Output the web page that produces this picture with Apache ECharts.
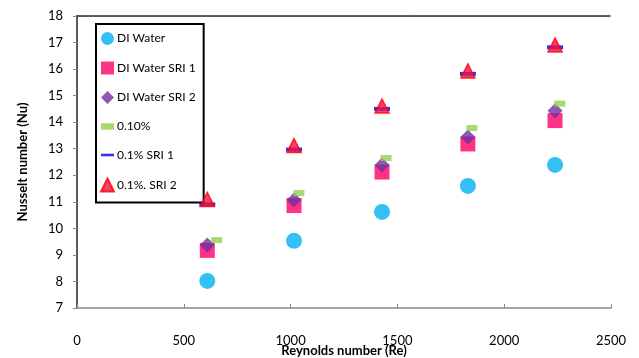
<!DOCTYPE html>
<html>
<head>
<meta charset="utf-8">
<script src="https://cdn.jsdelivr.net/npm/echarts@6/dist/echarts.min.js"></script>
<style>html,body{margin:0;padding:0;background:#fff}#c{width:639px;height:358px}</style>
</head>
<body>
<div id="c"></div>
<script>
const seriesNames = ['DI Water', 'DI Water SRI 1', 'DI Water SRI 2', '0.10%', '0.1% SRI 1', '0.1%. SRI 2'];
const reBase = [610, 1016, 1428, 1830, 2238];
const reGreen = [654, 1039, 1447, 1849, 2261];
const nuWater = [8.02, 9.53, 10.62, 11.6, 12.39];
const nuWaterSRI1 = [9.17, 10.86, 12.12, 13.18, 14.06];
const nuWaterSRI2 = [9.37, 11.07, 12.39, 13.44, 14.43];
const nu010 = [9.56, 11.33, 12.65, 13.78, 14.70];
const nu01SRI1 = [10.9, 12.97, 14.5, 15.82, 16.82];
const nu01SRI2 = [11.09, 13.12, 14.61, 15.93, 16.91];
const xTicks = [0, 500, 1000, 1500, 2000, 2500];
const yTicks = [7, 8, 9, 10, 11, 12, 13, 14, 15, 16, 17, 18];

const pair = (xs, ys) => xs.map((x, i) => [x, ys[i]]);
const FONT = 'Lato';
const dashGreen = 'path://M0,0h10v5h-10z';
const dashBlue = 'path://M0,0h15v3h-15z';

const chart = echarts.init(document.getElementById('c'), null, {renderer: 'canvas'});
chart.setOption({
  animation: false,
  textStyle: {fontFamily: FONT},
  grid: {left: 77, right: 28, top: 16, bottom: 50, containLabel: false, outerBoundsMode: 'none'},
  legend: {
    orient: 'vertical', left: 96, top: 24,
    backgroundColor: '#fff',
    borderColor: '#000', borderWidth: 2,
    padding: [8, 8, 10, 4],
    itemGap: 16.5, itemWidth: 13, itemHeight: 13,
    textStyle: {fontFamily: FONT, fontSize: 12, color: '#000', padding: [0, 0, 0, -2]},
    data: [
      {name: seriesNames[0], icon: 'circle'},
      {name: seriesNames[1], icon: 'rect'},
      {name: seriesNames[2], icon: 'diamond'},
      {name: seriesNames[3], icon: dashGreen},
      {name: seriesNames[4], icon: dashBlue},
      {name: seriesNames[5], icon: 'triangle'}
    ]
  },
  xAxis: [{
    type: 'value', min: 0, max: 2500, interval: 500,
    name: 'Reynolds number (Re)', nameLocation: 'middle', nameGap: 36, nameMoveOverlap: false,
    nameTextStyle: {fontFamily: FONT, fontSize: 13, fontWeight: 'bold', color: '#000'},
    axisLine: {show: true, lineStyle: {color: '#888', width: 1.5}},
    axisTick: {show: true, inside: true, length: 4, lineStyle: {color: '#888'}},
    axisLabel: {margin: 26, fontSize: 13, color: '#000', fontFamily: FONT,
      formatter: v => xTicks.includes(v) ? String(v) : ''},
    splitLine: {show: false}
  }, {
    type: 'value', min: 0, max: 2500, position: 'top',
    axisLine: {show: true, lineStyle: {color: '#222', width: 1.5, type: [2, 1]}},
    axisTick: {show: false}, axisLabel: {show: false}, splitLine: {show: false}
  }],
  yAxis: [{
    type: 'value', min: 7, max: 18, interval: 1,
    name: 'Nusselt number (Nu)', nameLocation: 'middle', nameGap: 48, nameMoveOverlap: false,
    nameTextStyle: {fontFamily: FONT, fontSize: 13, fontWeight: 'bold', color: '#000'},
    axisLine: {show: true, lineStyle: {color: '#888', width: 1.5}},
    axisTick: {show: true, inside: false, length: 4, lineStyle: {color: '#888'}},
    axisLabel: {margin: 14, fontSize: 13, color: '#000', fontFamily: FONT,
      formatter: v => yTicks.includes(v) ? String(v) : ''},
    splitLine: {show: false}
  }, {
    type: 'value', min: 7, max: 18, interval: 1, position: 'right',
    axisLine: {show: true, lineStyle: {color: '#444', width: 1.5}},
    axisTick: {show: false}, axisLabel: {show: false}, splitLine: {show: false}
  }],
  series: [
    {name: seriesNames[0], type: 'scatter', symbol: 'circle', symbolSize: 16,
      itemStyle: {color: '#00B0F0'}, data: pair(reBase, nuWater), z: 2},
    {name: seriesNames[1], type: 'scatter', symbol: 'rect', symbolSize: 15,
      itemStyle: {color: '#FF0066'}, data: pair(reBase, nuWaterSRI1), z: 3},
    {name: seriesNames[2], type: 'scatter', symbol: 'diamond', symbolSize: 15,
      itemStyle: {color: '#7030A0'}, data: pair(reBase, nuWaterSRI2), z: 4},
    {name: seriesNames[3], type: 'scatter', symbol: 'rect', symbolSize: [11, 6],
      itemStyle: {color: '#92D050'}, data: pair(reGreen, nu010), z: 5},
    {name: seriesNames[4], type: 'scatter', symbol: 'rect', symbolSize: [16, 4],
      itemStyle: {color: '#0000E0'}, data: pair(reBase, nu01SRI1), z: 6},
    {name: seriesNames[5], type: 'scatter', symbol: 'triangle', symbolSize: 14,
      itemStyle: {color: '#F2124A', borderColor: '#FF0000', borderWidth: 1.5}, data: pair(reBase, nu01SRI2), z: 7}
  ]
});
</script>
</body>
</html>
